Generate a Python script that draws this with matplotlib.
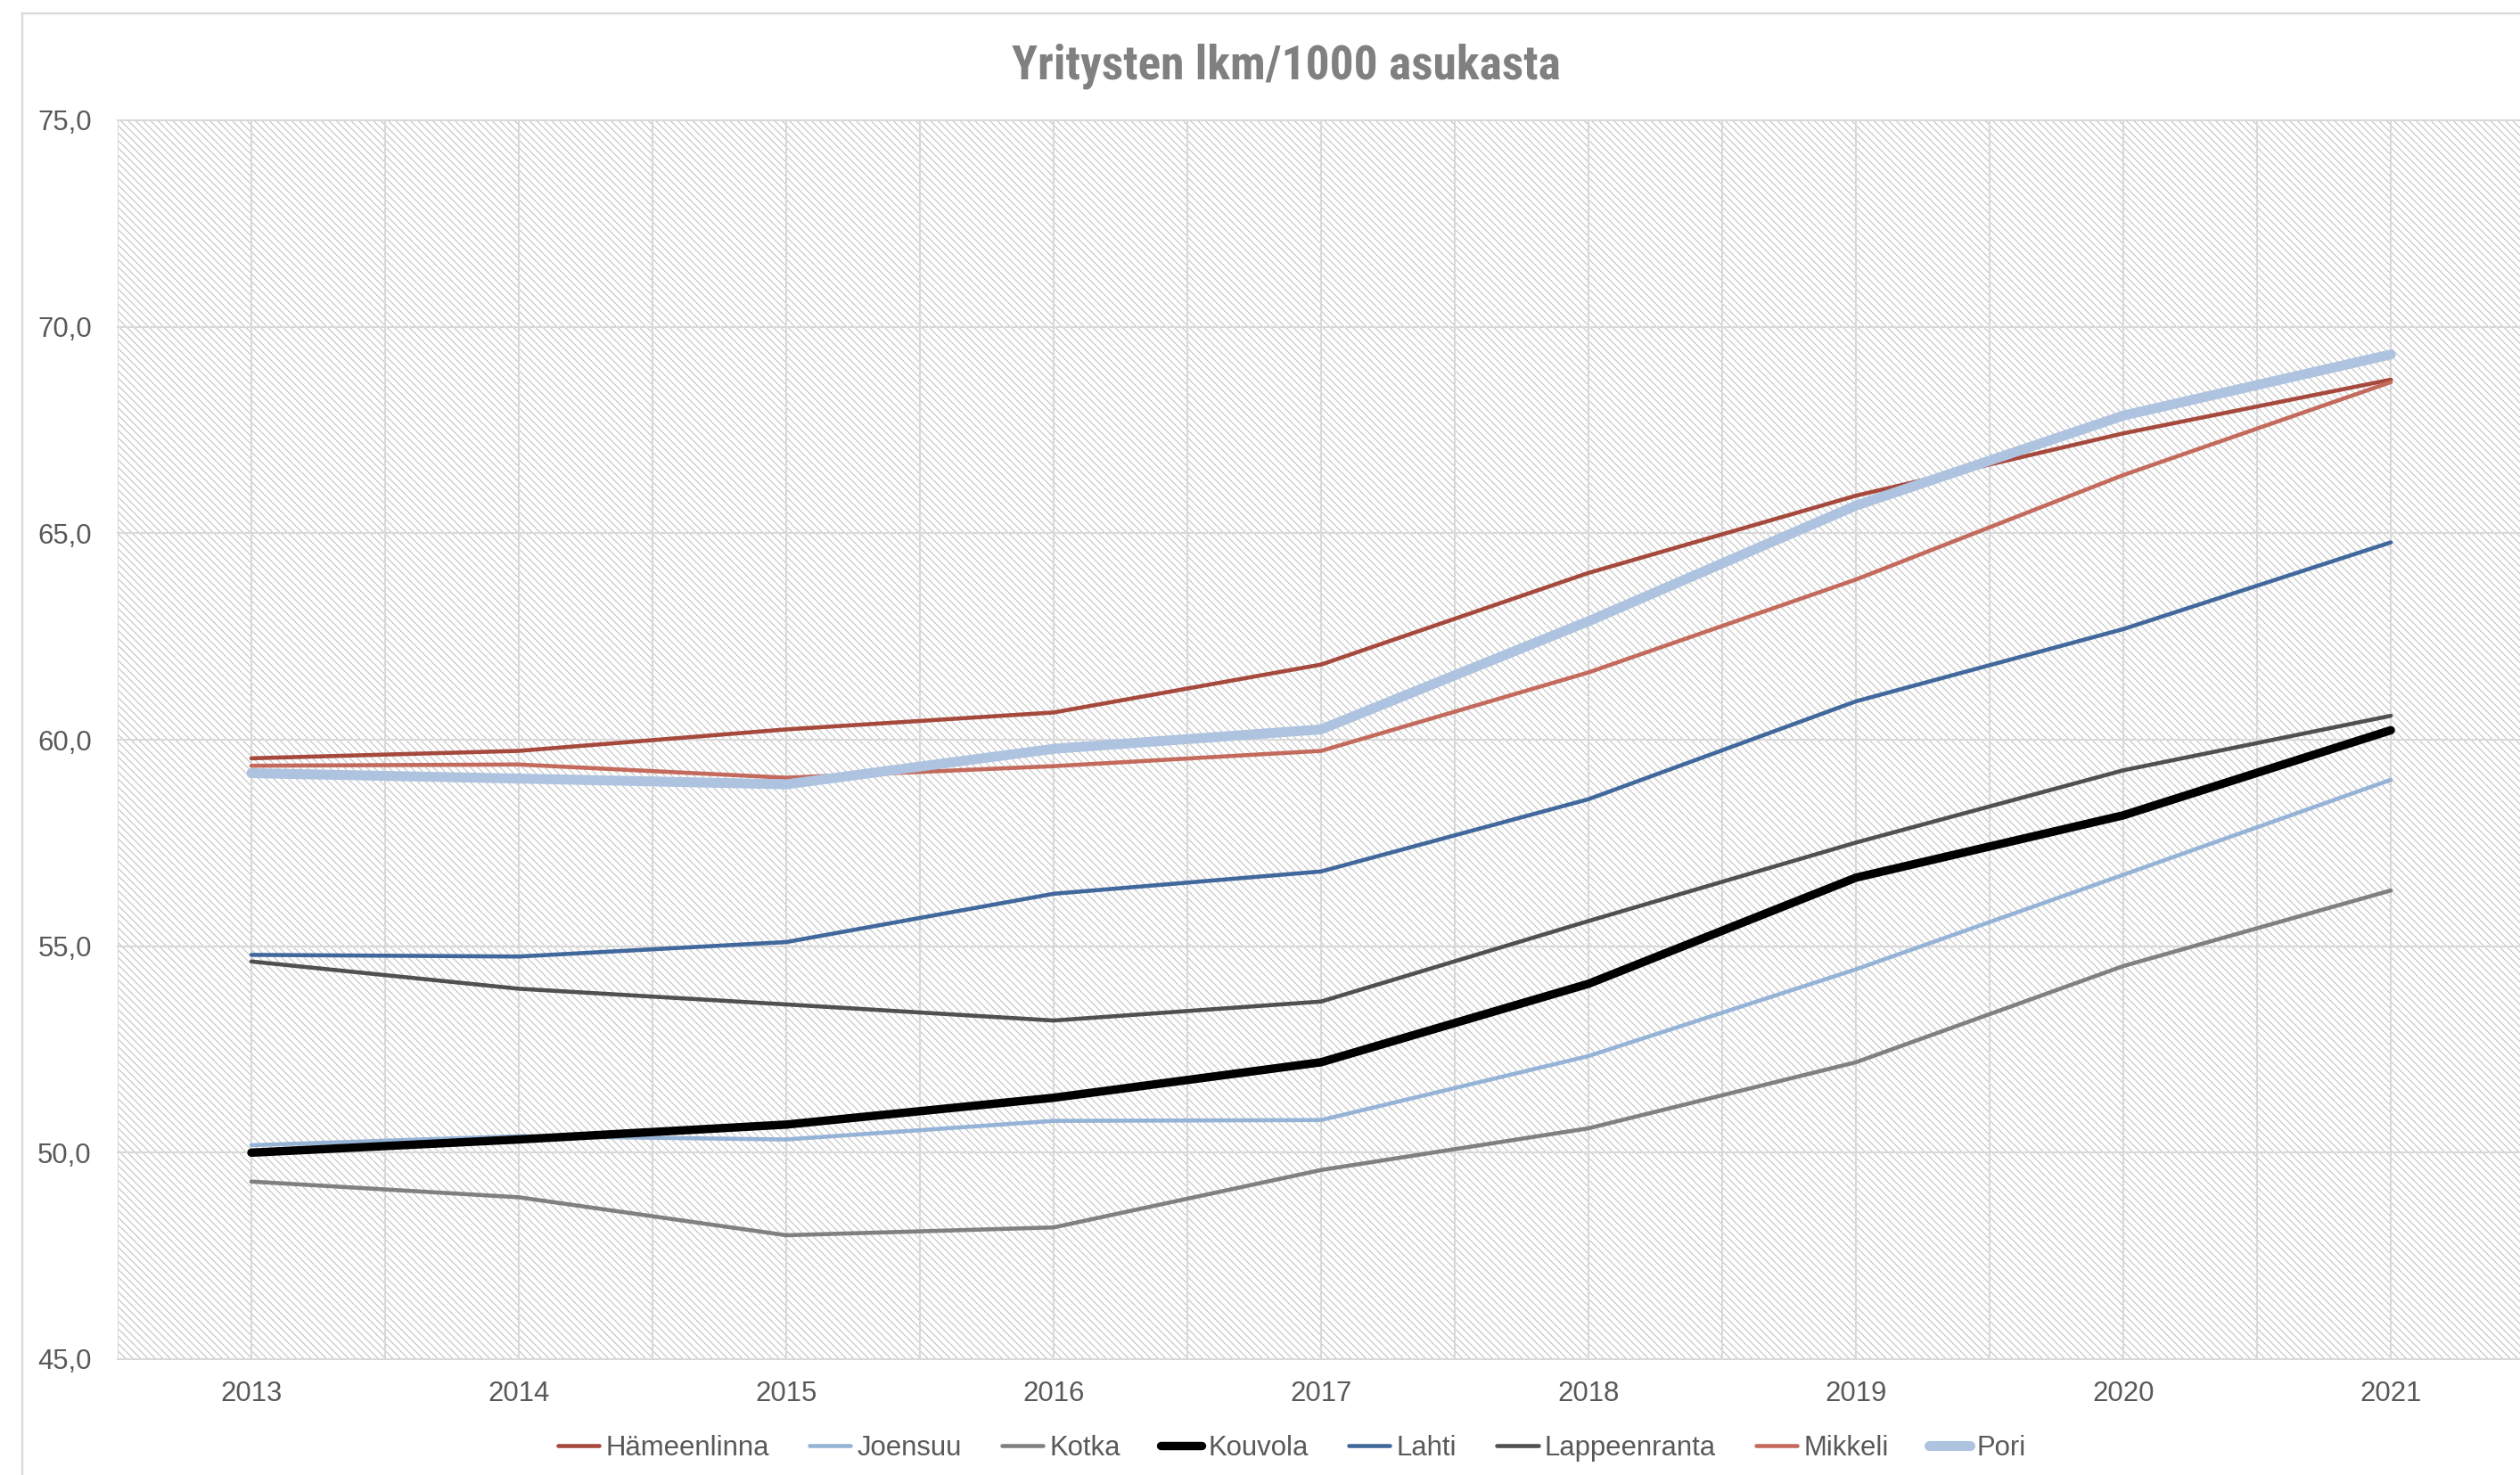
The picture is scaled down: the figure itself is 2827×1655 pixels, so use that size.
import matplotlib
matplotlib.use("Agg")
import matplotlib.pyplot as plt
from matplotlib.patches import Rectangle
from matplotlib.lines import Line2D
from matplotlib import font_manager

years = ["2013", "2014", "2015", "2016", "2017", "2018", "2019", "2020", "2021"]
hameenlinna = [59.55, 59.73, 60.25, 60.66, 61.82, 64.04, 65.91, 67.42, 68.72]
joensuu = [50.18, 50.40, 50.32, 50.77, 50.79, 52.34, 54.44, 56.73, 59.03]
kotka = [49.30, 48.92, 48.00, 48.19, 49.58, 50.59, 52.19, 54.52, 56.35]
kouvola = [50.00, 50.32, 50.68, 51.33, 52.19, 54.09, 56.66, 58.17, 60.23]
lahti = [54.79, 54.75, 55.10, 56.27, 56.81, 58.56, 60.93, 62.68, 64.78]
lappeenranta = [54.63, 53.97, 53.59, 53.20, 53.66, 55.61, 57.51, 59.26, 60.58]
mikkeli = [59.37, 59.40, 59.08, 59.36, 59.73, 61.63, 63.88, 66.41, 68.66]
pori = [59.19, 59.06, 58.92, 59.78, 60.25, 62.87, 65.67, 67.85, 69.33]

series_names = ["Hämeenlinna", "Joensuu", "Kotka", "Kouvola", "Lahti",
                "Lappeenranta", "Mikkeli", "Pori"]
series_values = [hameenlinna, joensuu, kotka, kouvola, lahti,
                 lappeenranta, mikkeli, pori]
colors = ["#A6493D", "#95B3D7", "#808080", "#000000", "#41689C",
          "#505050", "#C36A5C", "#ADC3DF"]
widths = [3.3, 3.3, 3.3, 6.8, 3.3, 3.3, 3.3, 8.0]

ytick_vals = [45, 50, 55, 60, 65, 70, 75]
ytick_labels = ["45,0", "50,0", "55,0", "60,0", "65,0", "70,0", "75,0"]
title = "Yritysten lkm/1000 asukasta"

# pick a condensed font for the title if one is installed
available = {f.name for f in font_manager.fontManager.ttflist}
title_family, title_size = "Liberation Sans", 34.5
for cand, size in [("Liberation Sans Narrow", 40.5), ("Roboto Condensed", 38.5),
                   ("Open Sans Condensed", 40.5), ("DejaVu Sans Condensed", 36.0)]:
    if cand in available:
        title_family, title_size = cand, size
        break

W, H = 2827, 1655
fig = plt.figure(figsize=(W / 100, H / 100), dpi=100)
fig.patch.set_facecolor("white")

# chart area border (top and left visible)
fig.add_artist(Line2D([25 / W, 25 / W], [0, 1 - 15 / H], transform=fig.transFigure,
                      color="#d9d9d9", lw=1.6))
fig.add_artist(Line2D([25 / W, 1], [1 - 15 / H, 1 - 15 / H], transform=fig.transFigure,
                      color="#d9d9d9", lw=1.6))

left, right, top, bottom = 132, 2827, 135, 1525
ax = fig.add_axes([left / W, 1 - bottom / H, (right - left) / W, (bottom - top) / H])
ax.set_facecolor("white")
plt.rcParams["hatch.linewidth"] = 0.9
bg = Rectangle((0, 0), 1, 1, transform=ax.transAxes, facecolor="white",
               edgecolor="#c8c8c8", hatch="\\\\\\\\", linewidth=0, zorder=0)
ax.add_patch(bg)

x = list(range(len(years)))
ax.set_xlim(-0.5, 8.483)
ax.set_ylim(45, 75)

# gridlines
for gx in [i * 0.5 - 0.5 for i in range(19)]:
    ax.axvline(gx, color="#d9d9d9", lw=1.5, zorder=1)
for gy in ytick_vals:
    ax.axhline(gy, color="#d9d9d9", lw=1.5, zorder=1, clip_on=False)

for name, vals, c, w in zip(series_names, series_values, colors, widths):
    ax.plot(x, vals, color=c, lw=w, label=name, solid_capstyle="round",
            solid_joinstyle="round", zorder=3)

for s in ax.spines.values():
    s.set_visible(False)

ax.set_xticks(x)
ax.set_xticklabels(years)
ax.set_yticks(ytick_vals)
ax.set_yticklabels(ytick_labels)
ax.tick_params(axis="both", length=0, labelsize=22.4, labelcolor="#595959")
ax.tick_params(axis="x", pad=17)
ax.tick_params(axis="y", pad=21)
for lab in ax.get_xticklabels() + ax.get_yticklabels():
    lab.set_family(["Liberation Sans", "DejaVu Sans"])

fig.text(1443 / W, 1 - 88 / H, title, ha="center", va="baseline",
         fontsize=title_size, fontweight="bold", color="#808080",
         family=[title_family, "Liberation Sans", "DejaVu Sans"])

leg = fig.legend(loc="center", bbox_to_anchor=(1449 / W, 1 - 1625 / H), ncol=8,
                 frameon=False, handlelength=1.5, handletextpad=0.22,
                 columnspacing=1.45,
                 prop={"family": ["Liberation Sans", "DejaVu Sans"], "size": 22.4})
for t in leg.get_texts():
    t.set_color("#595959")

fig.savefig("out.png", dpi=100, facecolor="white")
